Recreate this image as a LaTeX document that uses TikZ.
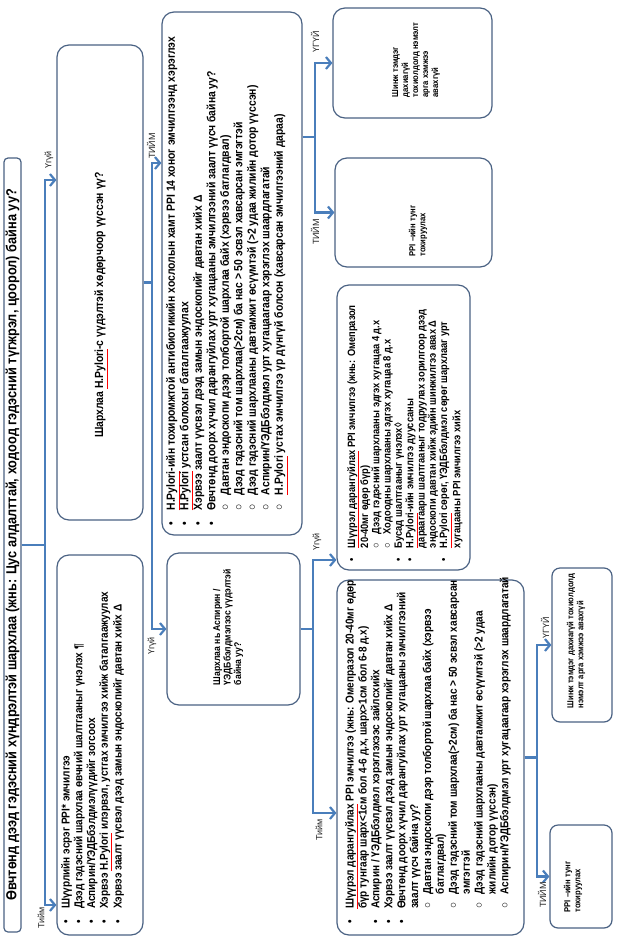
\documentclass[tikz,border=0pt]{standalone}
\usepackage{fontspec}
\setmainfont{Liberation Sans}
\newfontfamily\nb{Liberation Sans}[FakeStretch=0.88]
\usetikzlibrary{arrows.meta}
\definecolor{boxc}{HTML}{4A6283}
\definecolor{linec}{HTML}{4A7EBB}
\newcommand\spl[1]{\textcolor{red}{\underline{\textcolor{black}{#1}}}}
\newcommand\bu{\makebox[1.3em][l]{•}}
\newcommand\ci{\makebox[1.3em][l]{○}}
\newcommand\ind{\hspace*{1.3em}}
\newcommand\titlef{\nb\bfseries\fontsize{14.5}{16}\selectfont}
\newcommand\fA{\nb\bfseries\fontsize{11.4}{12.7}\selectfont}
\newcommand\fB{\nb\bfseries\fontsize{11.8}{14}\selectfont}
\newcommand\fC{\nb\bfseries\fontsize{11.8}{13.5}\selectfont}
\newcommand\fD{\nb\bfseries\fontsize{9.8}{10.5}\selectfont}
\newcommand\fE{\nb\bfseries\fontsize{11.4}{12.9}\selectfont}
\newcommand\fH{\nb\bfseries\fontsize{10.6}{11.3}\selectfont}
\newcommand\fS{\nb\bfseries\fontsize{8.7}{10}\selectfont}
\begin{document}
\begin{tikzpicture}[x=1pt,y=-1pt,
  box/.style={draw=boxc, line width=1.2pt, rounded corners=12pt, fill=white, inner sep=0pt},
  sbox/.style={box, rounded corners=8pt},
  conn/.style={draw=linec, line width=2.4pt},
  arr/.style={conn, -{Straight Barb[length=5pt,width=12pt,line width=2.2pt]}},
  txt/.style={rotate=90, anchor=north west, align=left, inner sep=0pt, text=black},
  ctxt/.style={rotate=90, anchor=center, align=left, inner sep=0pt, text=black},
  lbl/.style={rotate=90, inner sep=0pt, font=\fontsize{9}{10}\selectfont, text=black!85},
]
\useasboundingbox (0,0) rectangle (620,938);
\fill[white] (0,0) rectangle (620,938);

% boxes
\node[box, rounded corners=4pt, minimum width=17pt, minimum height=774pt] (T) at (12.5,545) {};
\node[box, minimum width=86pt, minimum height=475pt] (B) at (100,282.5) {};
\node[box, minimum width=86pt, minimum height=380pt] (A) at (100,745) {};
\node[box, minimum width=140pt, minimum height=523pt] (C) at (232,273.5) {};
\node[box, minimum width=133pt, minimum height=152pt] (D) at (233.5,629) {};
\node[box, minimum width=159pt, minimum height=110pt] (F) at (412.5,63) {};
\node[box, minimum width=157pt, minimum height=109pt] (G) at (413.5,212.5) {};
\node[box, minimum width=133pt, minimum height=285pt] (H) at (403.5,427.5) {};
\node[box, minimum width=187pt, minimum height=355pt] (E) at (430.5,757.5) {};
\node[sbox, minimum width=60pt, minimum height=154pt] (J) at (582,645) {};
\node[sbox, minimum width=62pt, minimum height=103pt] (I) at (581,876.5) {};

% texts
\node[ctxt, font=\titlef] (tT) at (T.center) {Өвчтөнд дээд гэдэсний хүндрэлтэй шархлаа (жнь: Цус алдалттай, ходоод гэдэсний түгжрэл, цоорол) байна уу?};
\node[ctxt, font=\fB] (tB) at (101,305) {Шархлаа \spl{H.Pylori}-с үүдэлтэй хөдөрчоор үүссэн үү?};
\node[txt, font=\fA] (tA) at (61,924) {%
\bu Шүүрлийн эсрэг PPI* эмчилгээ\\
\bu Дээд гэдэсний шархлаа өвчний шалтгааныг үнэлэх ¶\\
\bu Аспирин/ҮЭДБбэлдмэлүүдийг зогсоох\\
\bu Хэрвээ \spl{H.Pylori} илэрвэл, устгах эмчилгээ хийж баталгаажуулах\\
\bu Хэрвээ заалт үүсвэл дээд замын эндоскопийг давтан хийх Δ};
\node[txt, font=\fC] (tC) at (166,526) {%
\bu \spl{H.Pylori}-ийн тохиромжтой антибиотикийн хослолын хамт PPI 14 хоног эмчилгээнд хэрэглэх\\
\bu \spl{H.Pylori} устсан болохыг баталгаажуулах\\
\bu Хэрвээ заалт үүсвэл дээд замын эндоскопийг давтан хийх Δ\\
\bu Өвчтөнд доорх хүчил дарангуйлах урт хугацааны эмчилгээний заалт үүсч байна уу?\\
\ind\ci Давтан эндоскопи дээр толбортой шархлаа байх (хэрвээ батлагдвал)\\
\ind\ci Дээд гэдэсний том шархлаа(>2см) ба нас > 50 эсвэл хавсарсан эмгэгтэй\\
\ind\ci Дээд гэдэсний шархлааны давтамжит өсүүмтэй (>2 удаа жилийн дотор үүссэн)\\
\ind\ci Аспирин/ҮЭДБбэлдмэл урт хугацаагаар хэрэглэх шаардлагатай\\
\ind\ci \spl{H.Pylori} устах эмчилгээ үр дүнгүй болсон (хавсарсан эмчилгээний дараа)};
\node[ctxt, font=\fD] (tD) at (228,627) {Шархлаа нь Аспирин /\\ҮЭДБбэлдмэлээс үүдэлтэй\\байна уу?};
\node[ctxt, font=\fS] (tF) at (416,60) {Шинж тэмдэг\\дахиагүй\\тохиолдолд нэмэлт\\арга хэмжээ\\авахгүй};
\node[ctxt, font=\fS] (tG) at (418,231) {PPI –ийн тунг\\тохируулах};
\node[txt, font=\fH] (tH) at (347,562) {%
\bu \spl{Шүүрэл дарангуйлах} PPI эмчилгээ (жнь: Омепразол\\
\ind 20-40мг өдөр бүр)\\
\ind\ci Дээд гэдэсний шархлааны эдгэх хугацаа 4 д.х\\
\ind\ci Ходоодны шархлааны эдгэх хугацаа 8 д.х\\
\bu Бусад шалтгааныг үнэлэх◊\\
\bu \spl{H.Pylori}-ийн эмчилгээ дууссаны\\
\ind дараагаарш шалтгааныг тодруулах зорилгоор дээд\\
\ind эндоскопи давтан хийж эдийн шинжилгээ авах Δ\\
\bu \spl{H.Pylori} сөрөг, ҮЭДБбэлдмэл сөрөг шархлааг урт\\
\ind хугацааны PPI эмчилгээ хийх};
\node[txt, font=\fE] (tE) at (345,924) {%
\bu \spl{Шүүрэл дарангуйлах} PPI эмчилгээ (жнь: Омепразол 20-40мг өдөр\\
\ind бүр тунгаар шарх<1см бол 4-6 д.х, шарх>1см бол 6-8 д.х)\\
\bu Аспирин / ҮЭДБбэлдмэл хэрэглэхээс зайлсхийх\\
\bu Хэрвээ заалт үүсвэл дээд замын эндоскопийг давтан хийх Δ\\
\bu Өвчтөнд доорх хүчил дарангуйлах урт хугацааны эмчилгээний\\
\ind заалт үүсч байна уу?\\
\ind\ci Давтан эндоскопи дээр толбортой шархлаа байх (хэрвээ\\
\ind\ind батлагдвал)\\
\ind\ci Дээд гэдэсний том шархлаа(>2см) ба нас > 50 эсвэл хавсарсан\\
\ind\ind эмгэгтэй\\
\ind\ci Дээд гэдэсний шархлааны давтамжит өсүүмтэй (>2 удаа\\
\ind\ind жилийн дотор үүссэн)\\
\ind\ci Аспирин/ҮЭДБбэлдмэл урт хугацаагаар хэрэглэх шаардлагатай};
\node[ctxt, font=\fS] (tJ) at (576,641) {Шинж тэмдэг дахиагүй тохиолдолд\\нэмэлт арга хэмжээ авахгүй};
\node[ctxt, font=\fS] (tI) at (573,887) {PPI –ийн тунг\\тохируулах};

% connector bar points
\coordinate (t1) at (45,180);  \coordinate (t2) at (45,905);
\coordinate (b1) at (152,163); \coordinate (b2) at (152,629);
\coordinate (c0) at (315,137); \coordinate (c1) at (315,63);  \coordinate (c2) at (315,212.5);
\coordinate (d1) at (313,560); \coordinate (d2) at (313,813);
\coordinate (e1) at (537,645); \coordinate (e2) at (537,876.5);

\draw[arr] (T.east) -| (t1) -- (B.west |- t1);
\draw[arr] (T.east) -| (t2) -- (A.west |- t2);
\draw[arr] (B.east) -| (b1) -- (C.west |- b1);
\draw[arr] (B.east) -| (b2) -- (D.west |- b2);
\draw[arr] (C.east |- c0) -| (c1) -- (F.west);
\draw[arr] (C.east |- c0) -| (c2) -- (G.west);
\draw[arr] (D.east) -| (d1) -- (H.west |- d1);
\draw[arr] (D.east) -| (d2) -- (E.west |- d2);
\draw[arr] (E.east) -| (e1) -- (J.west);
\draw[arr] (E.east) -| (e2) -- (I.west);

% labels
\node[lbl] (l1) at (49,160) {Үгүй};
\node[lbl] (l2) at (41,918) {Тийм};
\node[lbl] (l3) at (151,146) {ТИЙМ};
\node[lbl] (l4) at (152,646) {Үгүй};
\node[lbl] (l5) at (315,42) {ҮГҮЙ};
\node[lbl] (l6) at (315,232) {ТИЙМ};
\node[lbl] (l7) at (317,542) {Үгүй};
\node[lbl] (l8) at (319,830) {Тийм};
\node[lbl] (l9) at (545,628) {ҮГҮЙ};
\node[lbl] (l10) at (542,895) {ТИЙМ};
\end{tikzpicture}
\end{document}
